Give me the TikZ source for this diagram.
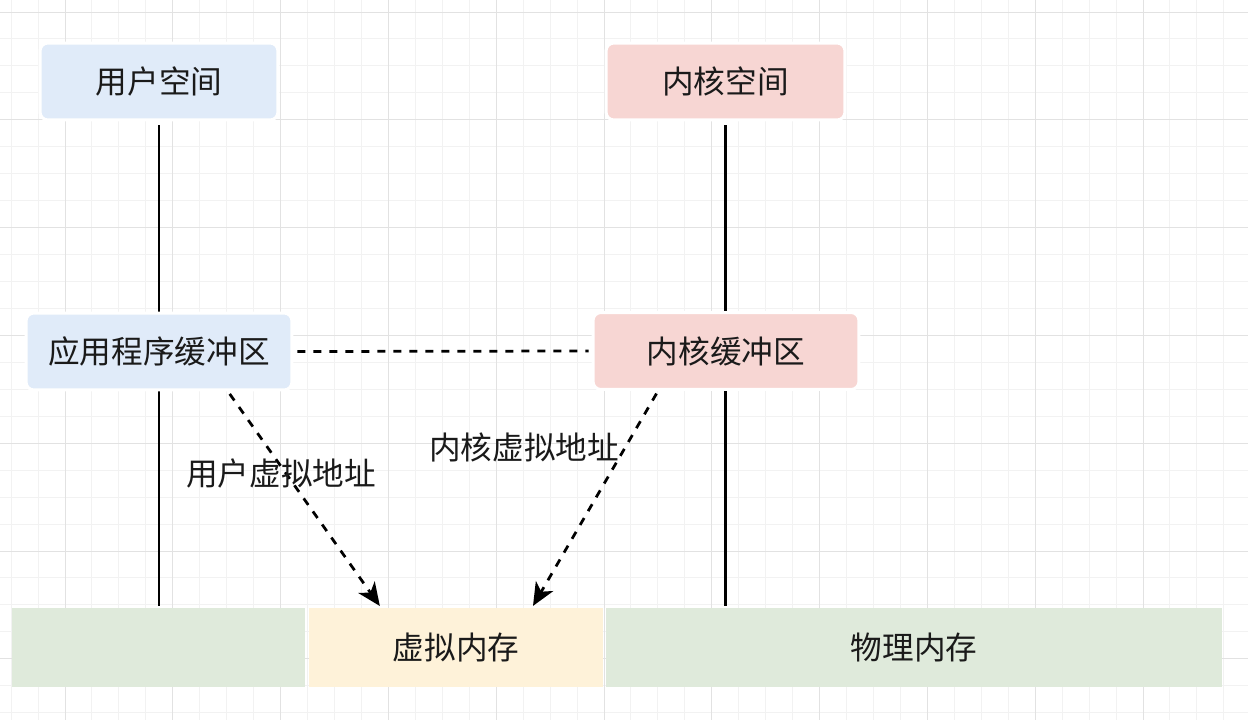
\documentclass[tikz,border=0pt]{standalone}
\usepackage{fontspec}
\newfontfamily\cjk{Noto Sans CJK SC}
\usetikzlibrary{arrows.meta,calc}
\definecolor{bluefill}{HTML}{E0EBF9}
\definecolor{redfill}{HTML}{F7D6D3}
\definecolor{greenfill}{HTML}{DFEADB}
\definecolor{yellowfill}{HTML}{FEF2D9}
\definecolor{textc}{HTML}{1A1A1A}
\definecolor{minorgrid}{HTML}{F2F2F2}
\definecolor{majorgrid}{HTML}{E2E2E2}
\begin{document}
\begin{tikzpicture}[x=0.02cm,y=-0.02cm,
  txt/.style={font=\cjk\fontsize{18}{22}\selectfont, text=textc},
  rbox/.style={txt, rounded corners=0.16cm, inner sep=0pt, minimum height=1.54cm, draw=white, line width=0.06cm},
  sbox/.style={txt, inner sep=0pt, minimum height=1.58cm},
  solidline/.style={line width=0.055cm, draw=black},
  dashline/.style={line width=0.055cm, draw=black, dash pattern=on 0.16cm off 0.16cm},
  dasharrow/.style={dashline, -{Stealth[length=0.46cm,width=0.4cm,inset=0.13cm]}}]
\useasboundingbox (0,0) rectangle (1248,720);
\fill[white] (0,0) rectangle (1248,720);
% grid
\foreach \i in {0,...,45} \draw[minorgrid, line width=0.02cm] ({11.1+\i*26.95},0) -- ++(0,720);
\foreach \j in {0,...,26} \draw[minorgrid, line width=0.02cm] (0,{12+\j*26.95}) -- ++(1248,0);
\foreach \i in {0,...,10} \draw[majorgrid, line width=0.02cm] ({65+\i*107.8},0) -- ++(0,720);
\foreach \j in {0,...,6} \draw[majorgrid, line width=0.02cm] (0,{12+\j*107.8}) -- ++(1248,0);

% top boxes
\node[rbox, fill=bluefill, minimum width=4.76cm] (usr) at (159,81.5) {用户空间};
\node[rbox, fill=redfill, minimum width=4.78cm] (kern) at (725.5,81.5) {内核空间};

% bottom row
\node[sbox, fill=greenfill, minimum width=5.86cm] (g1) at (158.5,647.5) {};
\node[sbox, fill=yellowfill, minimum width=5.88cm] (vm) at (456,647.5) {虚拟内存};
\node[sbox, fill=greenfill, minimum width=12.32cm] (phys) at (914,647.5) {物理内存};

% vertical lines
\draw[solidline, shorten <=0.08cm, shorten >=0.04cm] (usr.south) -- (usr.south |- g1.north);
\draw[solidline, shorten <=0.08cm, shorten >=0.04cm] (kern.south) -- (kern.south |- phys.north);

% middle boxes
\node[rbox, fill=bluefill, minimum width=5.32cm] (app) at (159,351.5) {应用程序缓冲区};
\node[rbox, fill=redfill, minimum width=5.32cm] (kbuf) at (726,351) {内核缓冲区};

% dashed connector between buffers
\draw[dashline, shorten <=0.08cm, shorten >=0.06cm] (app.east) -- (kbuf.west);

% dashed arrows
\coordinate (a1s) at ([xshift=1.38cm]app.south);
\coordinate (a1e) at ([xshift=-1.5cm]vm.north);
\coordinate (a2s) at ([xshift=-1.36cm]kbuf.south);
\coordinate (a2e) at ([xshift=1.52cm]vm.north);
\draw[dasharrow, shorten <=0.06cm, shorten >=0.04cm] (a1s) -- (a1e);
\draw[dasharrow, shorten <=0.06cm, shorten >=0.04cm] (a2s) -- (a2e);

% labels
\node[txt, inner sep=0pt] (l1) at (281,473) {用户虚拟地址};
\node[txt, inner sep=0pt] (l2) at (524,447) {内核虚拟地址};
\end{tikzpicture}
\end{document}
